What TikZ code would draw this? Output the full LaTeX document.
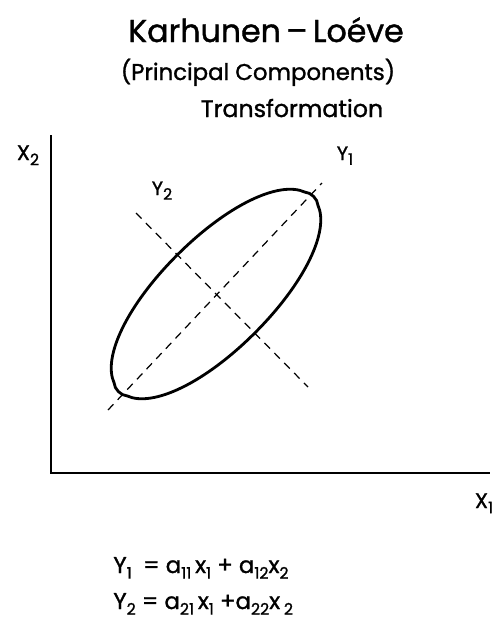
\documentclass[tikz,border=0pt]{standalone}
\usepackage{fontspec}
\setmainfont{Poppins}[FakeBold=1.2]
\usetikzlibrary{positioning, calc}
\newcommand{\lowidx}[1]{\raisebox{-0.45ex}{\small #1}}

\begin{document}
\begin{tikzpicture}[x=0.02cm, y=-0.02cm]
    \tikzset{
        axisline/.style={line width=1.1pt},
        pcline/.style={line width=0.7pt, dash pattern=on 4.5pt off 3.5pt},
        contour/.style={line width=1.6pt, line join=round},
        axislabel/.style={font=\fontsize{12}{14}\selectfont, inner sep=0pt, anchor=base},
        eqline/.style={font=\fontsize{13}{15}\selectfont, inner sep=0pt, anchor=base west},
    }
    \useasboundingbox (0,0) rectangle (493,620);
    % Title block
    \node[font=\fontsize{18}{22}\selectfont, inner sep=0pt, anchor=base] (title) at (266,42) {Karhunen\,--\,Loéve};
    \node[font=\fontsize{13}{16}\selectfont, inner sep=0pt, anchor=base] (subtitle) at (258,80) {(Principal Components)};
    \node[font=\fontsize{13.5}{16}\selectfont, inner sep=0pt, anchor=base] (kind) at (292,117) {Transformation};
    % Axes
    \coordinate (origin) at (51,473);
    \coordinate (xtwoend) at (51,135);
    \coordinate (xoneend) at (490,473);
    \draw[axisline] (xtwoend) -- (origin) -- (xoneend);
    \node[axislabel] (xtwo) at (28,160) {X\lowidx{2}};
    \node[axislabel] (xone) at (484,508) {X\lowidx{1}};
    % Principal axes
    \coordinate (center) at (216,294);
    \coordinate (yonelow) at (108,410);
    \coordinate (yonehigh) at (322,183);
    \coordinate (ytwohigh) at (136,213);
    \coordinate (ytwolow) at (308,387);
    \draw[pcline] (yonelow) -- (yonehigh);
    \draw[pcline] (ytwohigh) -- (ytwolow);
    \node[axislabel, font=\fontsize{11}{13}\selectfont] (yone) at (345,160) {Y\lowidx{1}};
    \node[axislabel, font=\fontsize{11}{13}\selectfont] (ytwo) at (162,195) {Y\lowidx{2}};
    % Data contour (ellipse with blunt tips, along Y1)
    \begin{scope}[shift={(center)}, rotate=45]
        \draw[contour] (0,55) .. controls (70,55) and (125,36) .. (135,9)
            .. controls (139,5) and (139,-5) .. (135,-9)
            .. controls (125,-36) and (70,-55) .. (0,-55)
            .. controls (-70,-55) and (-125,-36) .. (-135,-9)
            .. controls (-139,-5) and (-139,5) .. (-135,9)
            .. controls (-125,36) and (-70,55) .. cycle;
    \end{scope}
    % Equations
    \node[eqline] (eqone) at (113,573) {Y\lowidx{1}\enspace = a\lowidx{11}\,x\lowidx{1} + a\lowidx{12}x\lowidx{2}};
    \node[eqline] (eqtwo) at (113,609) {Y\lowidx{2} = a\lowidx{21}\,x\lowidx{1} +a\lowidx{22}x\,\lowidx{2}};
\end{tikzpicture}
\end{document}
